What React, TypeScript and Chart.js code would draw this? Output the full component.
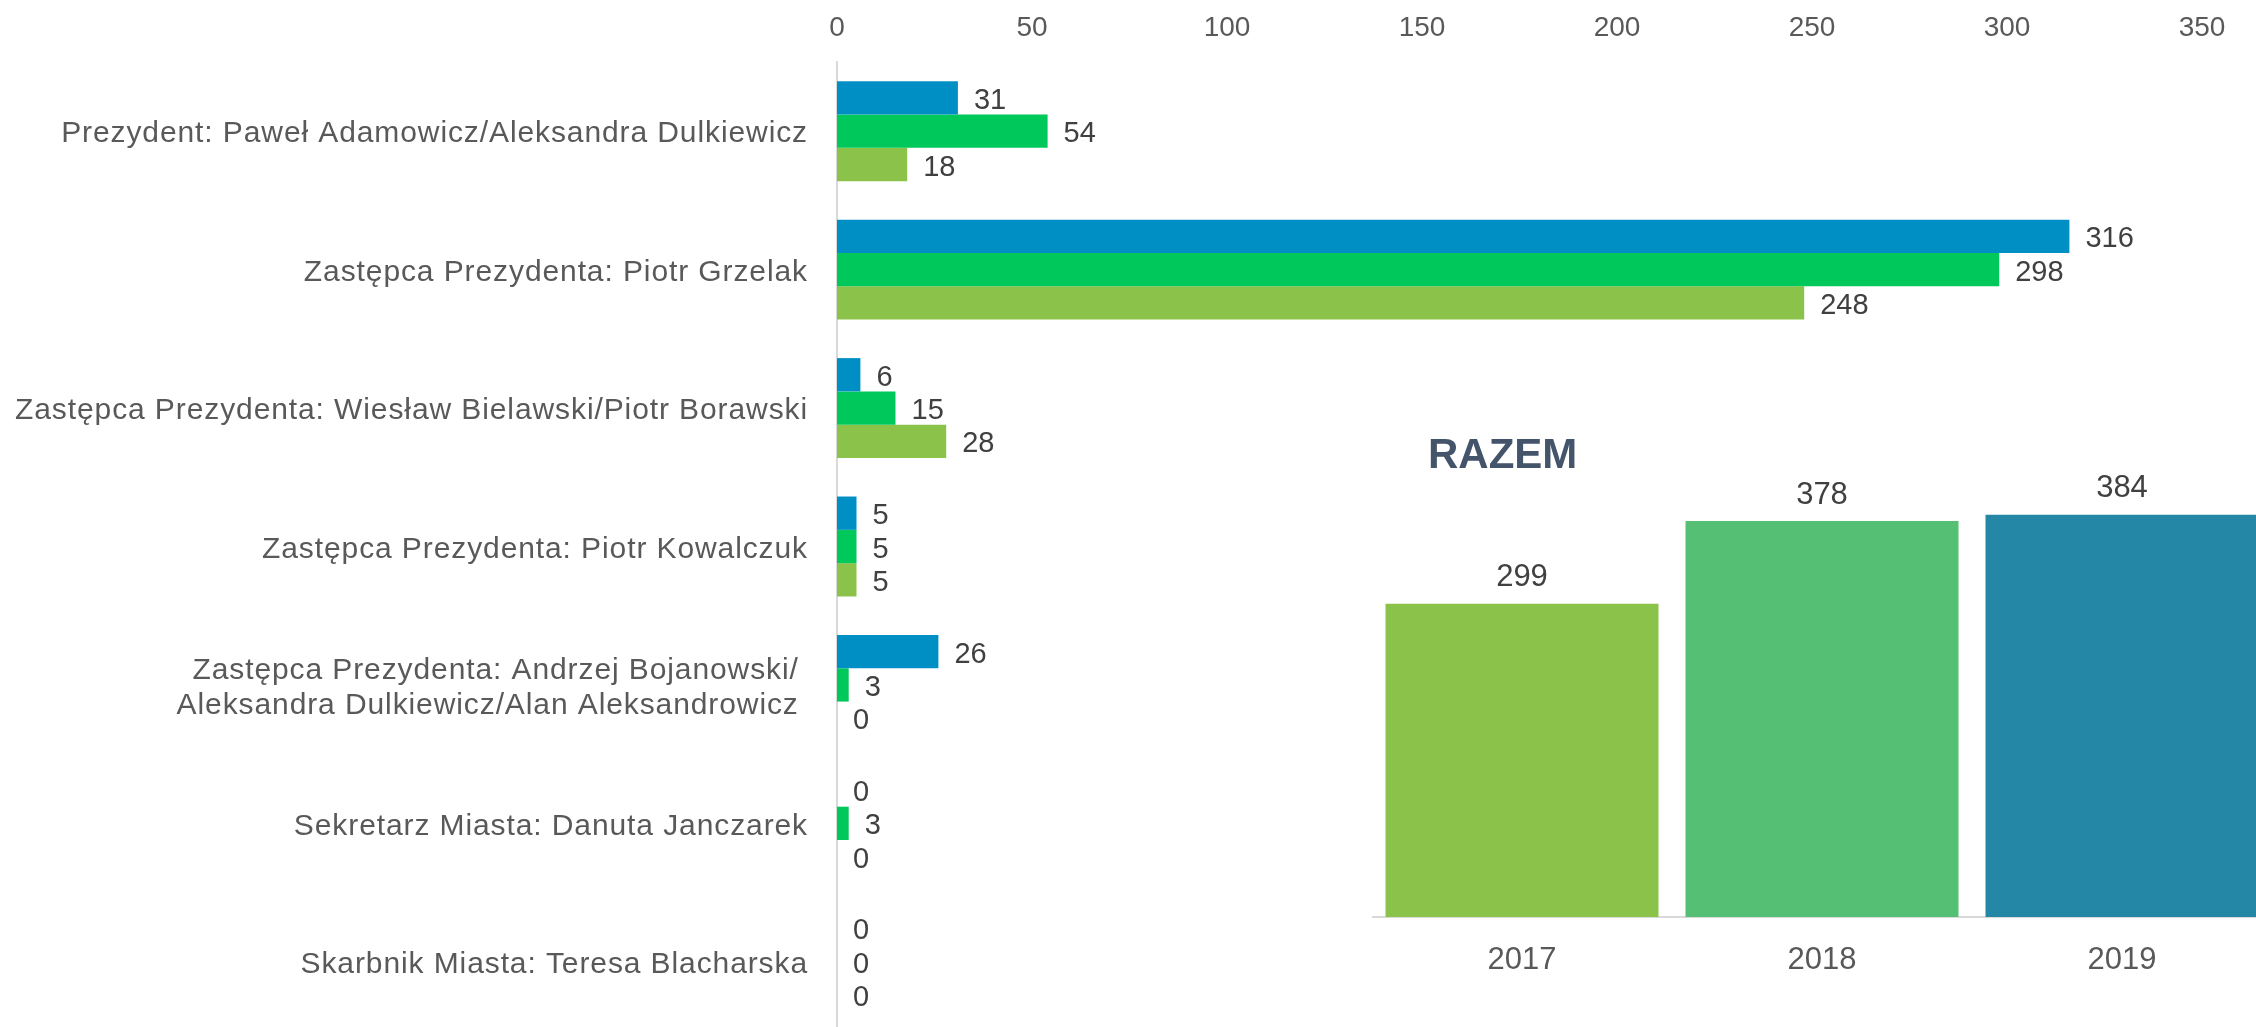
import React, { useEffect, useRef } from 'react';
import { Chart, registerables } from 'chart.js';

Chart.register(...registerables);

const FONT = "'Liberation Sans', Arial, sans-serif";

const categories: (string | string[])[] = [
  'Prezydent: Paweł Adamowicz/Aleksandra Dulkiewicz',
  'Zastępca Prezydenta: Piotr Grzelak',
  'Zastępca Prezydenta: Wiesław Bielawski/Piotr Borawski',
  'Zastępca Prezydenta: Piotr Kowalczuk',
  ['Zastępca Prezydenta: Andrzej Bojanowski/ ', 'Aleksandra Dulkiewicz/Alan Aleksandrowicz '],
  'Sekretarz Miasta: Danuta Janczarek',
  'Skarbnik Miasta: Teresa Blacharska',
];

const seriesLabels = ['2019', '2018', '2017'];
const values2019 = [31, 316, 6, 5, 26, 0, 0];
const values2018 = [54, 298, 15, 5, 3, 3, 0];
const values2017 = [18, 248, 28, 5, 0, 0, 0];
const seriesColors = ['#008FC4', '#00C85A', '#8BC34A'];

const xMin = 0;
const xMax = 350;
const xStep = 50;

const totalTitle = 'RAZEM';
const totalYears = ['2017', '2018', '2019'];
const totalValues = [299, 378, 384];
const totalColors = ['#8BC34A', '#55BF73', '#2587A6'];
const totalMax = 400;

const mainLabels = {
  id: 'mainLabels',
  afterDatasetsDraw(chart: any) {
    const ctx = chart.ctx;
    ctx.save();
    ctx.font = `29px ${FONT}`;
    ctx.fillStyle = '#404040';
    ctx.textAlign = 'left';
    ctx.textBaseline = 'middle';
    chart.data.datasets.forEach((ds: any, i: number) => {
      const meta = chart.getDatasetMeta(i);
      meta.data.forEach((el: any, j: number) => {
        ctx.fillText(String(ds.data[j]), el.x + 16, el.y + 3);
      });
    });
    ctx.restore();
  },
};

const insetLabels = {
  id: 'insetLabels',
  afterDatasetsDraw(chart: any) {
    const ctx = chart.ctx;
    ctx.save();
    ctx.font = `31px ${FONT}`;
    ctx.fillStyle = '#404040';
    ctx.textAlign = 'center';
    ctx.textBaseline = 'middle';
    chart.data.datasets.forEach((ds: any, i: number) => {
      const meta = chart.getDatasetMeta(i);
      meta.data.forEach((el: any, j: number) => {
        ctx.fillText(String(ds.data[j]), el.x, el.y - 26);
      });
    });
    ctx.font = `bold 42px ${FONT}`;
    ctx.fillStyle = '#44546A';
    ctx.textAlign = 'left';
    ctx.fillText(totalTitle, chart.chartArea.left + 56, 56);
    ctx.restore();
  },
};

function fitCategoryAxis(s: any) {
  s.width = 837;
  s.paddingTop = 0;
  s.paddingBottom = 0;
  if (!s.__spaced) {
    const orig = s.drawLabels;
    s.drawLabels = function (area: any) {
      const ctx = this.ctx;
      ctx.save();
      ctx.translate(0, 3);
      (ctx as any).letterSpacing = '0.9px';
      orig.call(this, area);
      ctx.restore();
    };
    s.__spaced = true;
  }
}

export default function App() {
  const mainRef = useRef<HTMLCanvasElement>(null);
  const insetRef = useRef<HTMLCanvasElement>(null);

  useEffect(() => {
    const main = new Chart(mainRef.current!, {
      type: 'bar',
      data: {
        labels: categories,
        datasets: [
          { label: seriesLabels[0], data: values2019, backgroundColor: seriesColors[0], categoryPercentage: 0.722, barPercentage: 1 },
          { label: seriesLabels[1], data: values2018, backgroundColor: seriesColors[1], categoryPercentage: 0.722, barPercentage: 1 },
          { label: seriesLabels[2], data: values2017, backgroundColor: seriesColors[2], categoryPercentage: 0.722, barPercentage: 1 },
        ],
      },
      options: {
        responsive: false,
        animation: false,
        indexAxis: 'y',
        layout: { padding: { top: 0, left: 0, right: 54, bottom: 0 } },
        plugins: { legend: { display: false }, tooltip: { enabled: false }, title: { display: false } },
        scales: {
          x: {
            position: 'top',
            min: xMin,
            max: xMax,
            ticks: { stepSize: xStep, color: '#595959', font: { size: 28, family: FONT, lineHeight: 1.2 }, padding: 17 },
            grid: { display: false, drawTicks: false },
            border: { display: false },
            afterFit: (s: any) => { s.height = 62; },
          },
          y: {
            ticks: { color: '#595959', font: { size: 30, family: FONT, lineHeight: 1.17 }, padding: 29 },
            grid: { display: false, drawTicks: false },
            border: { display: true, color: '#d9d9d9', width: 2 },
            afterFit: fitCategoryAxis,
          },
        },
      } as any,
      plugins: [mainLabels],
    });

    const inset = new Chart(insetRef.current!, {
      type: 'bar',
      data: {
        labels: totalYears,
        datasets: [
          { label: totalTitle, data: totalValues, backgroundColor: totalColors, categoryPercentage: 1, barPercentage: 0.91 },
        ],
      },
      options: {
        responsive: false,
        animation: false,
        layout: { padding: { top: 98, left: 0, right: 0, bottom: 0 } },
        plugins: { legend: { display: false }, tooltip: { enabled: false } },
        scales: {
          x: {
            ticks: { color: '#595959', font: { size: 31, family: FONT, lineHeight: 1.2 }, padding: 25 },
            grid: { display: false, drawTicks: false },
            border: { display: true, color: '#d9d9d9', width: 2 },
            afterFit: (s: any) => { s.height = 83; },
          },
          y: { display: false, min: 0, max: totalMax },
        },
      } as any,
      plugins: [insetLabels],
    });

    return () => {
      main.destroy();
      inset.destroy();
    };
  }, []);

  return (
    <div style={{ position: 'fixed', left: 0, top: 0, width: 2256, height: 1027, overflow: 'hidden', background: '#ffffff' }}>
      <canvas ref={mainRef} width={2256} height={1031} style={{ position: 'absolute', left: 0, top: 0 }} />
      <canvas ref={insetRef} width={900} height={600} style={{ position: 'absolute', left: 1372, top: 400 }} />
    </div>
  );
}
